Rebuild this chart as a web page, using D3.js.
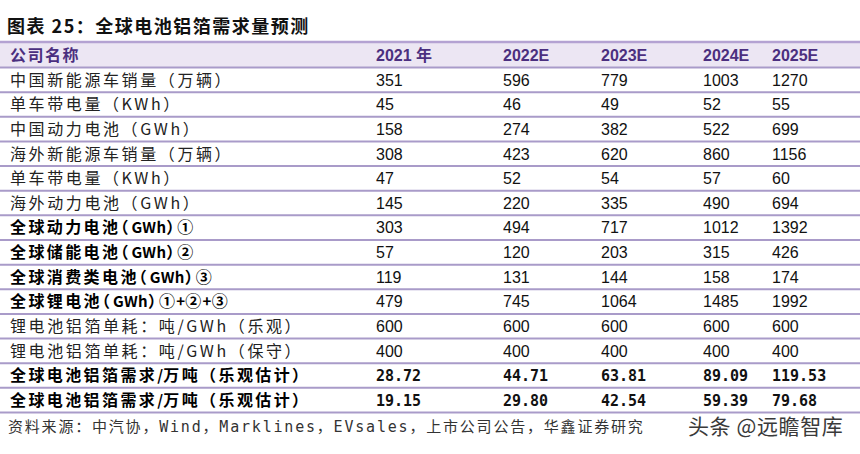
<!DOCTYPE html>
<html><head><meta charset="utf-8">
<script src="https://cdn.jsdelivr.net/npm/d3@7/dist/d3.min.js"></script>
<style>body{margin:0;background:#fff}svg{display:block}.halt{font-feature-settings:"halt" 1}</style>
</head><body><svg id="c" width="860" height="454"></svg>
<script>
const title = "图表 25：全球电池铝箔需求量预测";
const headerLabel = "公司名称";
const years = ["2021 年", "2022E", "2023E", "2024E", "2025E"];
const rowLabels = [
  "中国新能源车销量（万辆）",
  "单车带电量（KWh）",
  "中国动力电池（GWh）",
  "海外新能源车销量（万辆）",
  "单车带电量（KWh）",
  "海外动力电池（GWh）",
  "全球动力电池（GWh）①",
  "全球储能电池（GWh）②",
  "全球消费类电池（GWh）③",
  "全球锂电池（GWh）①+②+③",
  "锂电池铝箔单耗：吨/GWh（乐观）",
  "锂电池铝箔单耗：吨/GWh（保守）",
  "全球电池铝箔需求/万吨（乐观估计）",
  "全球电池铝箔需求/万吨（乐观估计）"
];
const boldRows = [false,false,false,false,false,false,true,true,true,true,false,false,true,true];
const values = [
  ["351","596","779","1003","1270"],
  ["45","46","49","52","55"],
  ["158","274","382","522","699"],
  ["308","423","620","860","1156"],
  ["47","52","54","57","60"],
  ["145","220","335","490","694"],
  ["303","494","717","1012","1392"],
  ["57","120","203","315","426"],
  ["119","131","144","158","174"],
  ["479","745","1064","1485","1992"],
  ["600","600","600","600","600"],
  ["400","400","400","400","400"],
  ["28.72","44.71","63.81","89.09","119.53"],
  ["19.15","29.80","42.54","59.39","79.68"]
];
const source = "资料来源：中汽协，Wind，Marklines，EVsales，上市公司公告，华鑫证券研究";
const watermark = "头条 @远瞻智库";

const svg = d3.select("#c");
const W = 860;
const colX = d3.scaleOrdinal().domain(years).range([376, 503, 601, 703, 772]);
const headTop = 42, headBot = 67.5, tableBot = 412.5;
const rowY = d3.scaleBand().domain(d3.range(rowLabels.length)).range([headBot, tableBot]);

const CJK = "'Noto Sans CJK SC', sans-serif";
const isLatin = ch => /[A-Za-z0-9+\/]/.test(ch);
const isCirc = ch => /[\u2460-\u2473]/.test(ch);
function charClass(chars, k) {
  const ch = chars[k];
  if (isCirc(ch)) return "circ";
  if (isLatin(ch)) return "latin";
  if (ch === "（" && k + 1 < chars.length && isLatin(chars[k + 1])) return "halt";
  if (ch === "）" && k > 0 && isLatin(chars[k - 1])) return "halt";
  return "cjk";
}
function segments(s) {
  const chars = Array.from(s);
  const out = [];
  chars.forEach((ch, k) => {
    const c = charClass(chars, k);
    if (out.length && out[out.length - 1].c === c) out[out.length - 1].t += ch;
    else out.push({ t: ch, c });
  });
  return out;
}
const segSpacing = { cjk: 2.4, latin: 0.3, halt: 3, circ: 1.2 };

// title
svg.append("text").attr("x", 7).attr("y", 33)
  .attr("font-family", CJK).attr("font-weight", 700).attr("font-size", 18)
  .attr("letter-spacing", 1.5).attr("fill", "#111").text(title);

// header band
svg.append("rect").attr("x", 0).attr("y", headTop).attr("width", W).attr("height", headBot - headTop)
  .attr("fill", "#ece6f3");
svg.append("line").attr("x1", 0).attr("x2", W).attr("y1", headTop).attr("y2", headTop)
  .attr("stroke", "#b4a2d2").attr("stroke-width", 2.5);
svg.append("text").attr("x", 10).attr("y", headTop + (headBot - headTop) / 2).attr("dy", "0.36em")
  .attr("font-family", CJK).attr("font-weight", 700).attr("font-size", 16).attr("letter-spacing", 1.5)
  .attr("fill", "#4b2f7f").text(headerLabel);
svg.append("g").selectAll("text").data(years).join("text")
  .attr("x", d => colX(d)).attr("y", headTop + (headBot - headTop) / 2).attr("dy", "0.36em")
  .attr("font-family", "'Liberation Sans', " + CJK).attr("font-weight", 700).attr("font-size", 16)
  .attr("fill", "#4b2f7f").text(d => d);

// rows
const rows = svg.append("g").selectAll("g").data(rowLabels).join("g")
  .attr("transform", (d, i) => `translate(0,${rowY(i)})`);
const bh = rowY.bandwidth();
rows.each(function(d, i) {
  const g = d3.select(this);
  const t = g.append("text").attr("x", 10).attr("y", bh / 2).attr("dy", "0.36em")
    .attr("font-family", CJK).attr("font-size", 16)
    .attr("font-weight", boldRows[i] ? 700 : 400)
    .attr("fill", boldRows[i] ? "#000" : "#222");
  if (boldRows[i]) {
    t.selectAll("tspan").data(segments(d)).join("tspan")
      .attr("class", s => s.c === "halt" ? "halt" : null)
      .attr("letter-spacing", s => segSpacing[s.c])
      .attr("font-size", s => s.c === "latin" ? 15 : 16)
      .text(s => s.t);
  } else {
    t.attr("letter-spacing", 2.6).text(d);
  }
  g.selectAll("text.v").data(values[i]).join("text").attr("class", "v")
    .attr("x", (v, j) => colX(years[j])).attr("y", bh / 2).attr("dy", "0.36em")
    .attr("font-family", boldRows[i] && i >= 12 ? "'DejaVu Sans Mono', monospace" : "'Liberation Sans', sans-serif")
    .attr("font-size", boldRows[i] && i >= 12 ? 15 : 16)
    .attr("font-weight", boldRows[i] && i >= 12 ? 700 : 400)
    .attr("fill", "#111").text(v => v);
});

// lines
const lineYs = [headBot].concat(rowLabels.map((d, i) => rowY(i) + bh));
svg.append("g").selectAll("line").data(lineYs).join("line")
  .attr("x1", 0).attr("x2", W).attr("y1", d => d).attr("y2", d => d)
  .attr("stroke", "#a99bc9").attr("stroke-width", 2);

// footer
svg.append("text").attr("x", 8).attr("y", 427).attr("dy", "0.36em")
  .attr("font-family", "'DejaVu Sans Mono', " + CJK).attr("font-size", 15).attr("letter-spacing", 1.8)
  .attr("fill", "#333").text(source);
svg.append("text").attr("x", 688).attr("y", 426).attr("dy", "0.36em")
  .attr("font-family", CJK).attr("font-size", 21).attr("letter-spacing", 0.6)
  .attr("fill", "#3a3a3a").text(watermark);
</script></body></html>
